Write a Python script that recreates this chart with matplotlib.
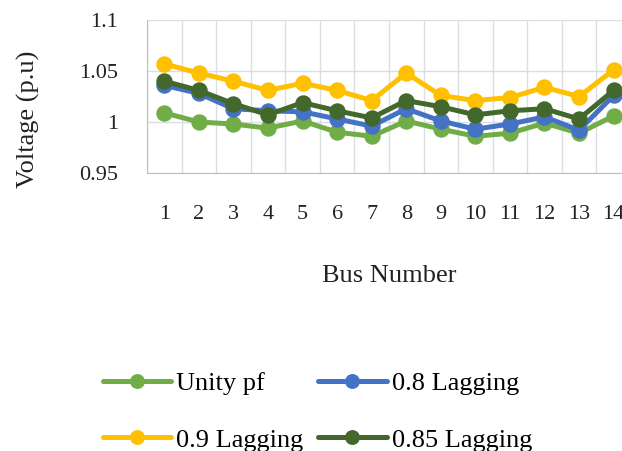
import numpy as np
import matplotlib
matplotlib.use("Agg")
import matplotlib.pyplot as plt
from matplotlib.ticker import FixedLocator, FuncFormatter

plt.rcParams['font.family'] = ['Liberation Serif', 'DejaVu Serif']

# bus voltage profile for the 14 bus system
buses = np.arange(1, 15)
bus_labels = [str(b) for b in buses]
unity_pf = [1.009, 1.000, 0.998, 0.994, 1.001, 0.990, 0.986, 1.001, 0.993, 0.986, 0.989, 0.999, 0.989, 1.006]
lag_080 = [1.036, 1.028, 1.013, 1.011, 1.010, 1.003, 0.996, 1.013, 1.001, 0.993, 0.998, 1.005, 0.992, 1.026]
lag_090 = [1.057, 1.048, 1.040, 1.031, 1.038, 1.031, 1.021, 1.048, 1.026, 1.021, 1.024, 1.034, 1.025, 1.051]
lag_085 = [1.040, 1.031, 1.018, 1.007, 1.019, 1.011, 1.004, 1.021, 1.015, 1.007, 1.011, 1.013, 1.003, 1.031]

series = [
    ("Unity pf", unity_pf, "#70AD47"),
    ("0.8 Lagging", lag_080, "#4472C4"),
    ("0.9 Lagging", lag_090, "#FFC000"),
    ("0.85 Lagging", lag_085, "#43682B"),
]

fig = plt.figure(figsize=(6.22, 4.51), dpi=100)
# right edge of the plot runs past the figure edge on purpose
ax = fig.add_axes([0.2363, 0.6164, 0.778, 0.3392])

lines = {}
for name, vals, col in series:
    ln, = ax.plot(buses, vals, color=col, lw=3.6, marker='o', ms=10.8,
                  mfc=col, mec=col, label=name, solid_capstyle='round')
    lines[name] = ln

ax.set_xlim(0.5, 14.5)
ax.set_ylim(0.95, 1.1)
ax.yaxis.set_major_locator(FixedLocator([0.95, 1.0, 1.05, 1.1]))
ax.yaxis.set_major_formatter(FuncFormatter(lambda v, p: f"{v:g}"))
ax.set_xticks(buses)
ax.set_xticklabels(bus_labels)
ax.xaxis.set_minor_locator(FixedLocator(np.arange(0.5, 15, 1)))

ax.grid(True, which='major', axis='y', color='#D9DEE3', lw=1)
ax.grid(True, which='minor', axis='x', color='#D9DEE3', lw=1)
ax.set_axisbelow(True)
for s in ax.spines.values():
    s.set_visible(False)
ax.spines['left'].set_visible(True)
ax.spines['left'].set_color('#BFBFBF')
ax.spines['bottom'].set_visible(True)
ax.spines['bottom'].set_color('#BFBFBF')

ax.tick_params(axis='both', which='both', length=0, colors='#222222')
ax.tick_params(axis='y', labelsize=16, pad=21)
ax.tick_params(axis='x', labelsize=16, pad=23)

ax.set_xlabel("Bus Number", fontsize=19, color='#222222')
ax.set_ylabel("Voltage (p.u)", fontsize=19, color='#222222')
ax.xaxis.set_label_coords(0.5, -0.60)
ax.yaxis.set_label_coords(-0.221, 0.35)

# legend fills column by column, so order handles to read row by row
order = ["Unity pf", "0.9 Lagging", "0.8 Lagging", "0.85 Lagging"]
fig.legend([lines[n] for n in order], order,
           loc='upper left', bbox_to_anchor=(0.1436, 0.205), ncol=2,
           frameon=False, fontsize=19, handlelength=2.6, handletextpad=0.2,
           columnspacing=0.55, labelspacing=1.25, borderpad=0, markerscale=0.9)

fig.savefig("out.png", dpi=100)
